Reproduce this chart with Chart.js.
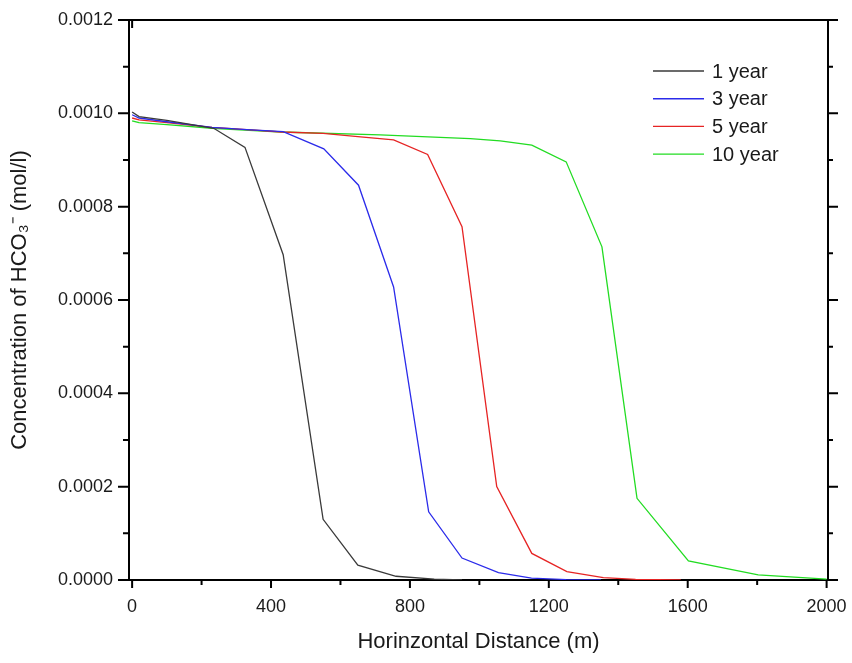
<!DOCTYPE html>
<html>
<head>
<meta charset="utf-8">
<title>HCO3- concentration profiles</title>
<script src="https://cdn.jsdelivr.net/npm/chart.js@4/dist/chart.umd.min.js"></script>
<style>
  html, body { margin: 0; padding: 0; background: #fff; }
  canvas { display: block; }
</style>
</head>
<body>
<canvas id="chart" width="852" height="663"></canvas>
<script>
// distance (m) and concentration (mol/l) for each simulated period
const dist1 = [0, 20, 100, 235, 325, 435, 550, 650, 760, 870, 950];
const year1 = [0.001003, 0.000993, 0.000985, 0.000968, 0.000927, 0.000697, 0.00013, 0.000032, 0.000008, 0.000002, 0];

const dist3 = [0, 20, 100, 230, 330, 435, 552, 652, 753, 854, 950, 1055, 1150, 1250, 1350];
const year3 = [0.000997, 0.00099, 0.000982, 0.00097, 0.000965, 0.000961, 0.000924, 0.000846, 0.000628, 0.000146, 0.000047, 0.000016, 0.000004, 0.000001, 0];

const dist5 = [0, 20, 100, 230, 330, 430, 550, 650, 753, 851, 950, 1050, 1151, 1252, 1357, 1450, 1580];
const year5 = [0.00099, 0.000986, 0.00098, 0.00097, 0.000965, 0.00096, 0.000957, 0.00095, 0.000943, 0.000912, 0.000757, 0.0002, 0.000057, 0.000018, 0.000005, 0.0000015, 0];

const dist10 = [0, 20, 100, 230, 430, 714, 974, 1060, 1151, 1250, 1353, 1454, 1602, 1803, 2000];
const year10 = [0.000984, 0.00098, 0.000976, 0.000968, 0.00096, 0.000954, 0.000946, 0.000941, 0.000932, 0.000896, 0.000714, 0.000175, 0.000041, 0.000011, 0.000002];

const seriesLabels = ["1 year", "3 year", "5 year", "10 year"];
const seriesColors = ["#3a3a3a", "#2b2bea", "#e62424", "#22dc22"];

const xTicks = [0, 400, 800, 1200, 1600, 2000];
const yTicks = [0, 0.0002, 0.0004, 0.0006, 0.0008, 0.0010, 0.0012];

const toPoints = (xs, ys) => xs.map((x, i) => ({ x: x, y: ys[i] }));
const allSeries = [
  toPoints(dist1, year1),
  toPoints(dist3, year3),
  toPoints(dist5, year5),
  toPoints(dist10, year10)
];

Chart.defaults.font.family = '"Liberation Sans", Arial, sans-serif';
Chart.defaults.color = "#1a1a1a";

// box frame with major and minor ticks on left, bottom and right
const framePlugin = {
  id: "frame",
  beforeDatasetsDraw(chart) {
    const { ctx, chartArea: a, scales: { x, y } } = chart;
    ctx.save();
    ctx.strokeStyle = "#000";
    ctx.lineWidth = 2;
    ctx.strokeRect(a.left, a.top, a.right - a.left, a.bottom - a.top);
    ctx.beginPath();
    xTicks.forEach((v, i) => {
      const px = x.getPixelForValue(v);
      ctx.moveTo(px, a.bottom);
      ctx.lineTo(px, a.bottom + 8);
      if (i < xTicks.length - 1) {
        const mx = x.getPixelForValue((v + xTicks[i + 1]) / 2);
        ctx.moveTo(mx, a.bottom);
        ctx.lineTo(mx, a.bottom + 5);
      }
    });
    yTicks.forEach((v, i) => {
      const py = y.getPixelForValue(v);
      ctx.moveTo(a.left, py);
      ctx.lineTo(a.left - 11, py);
      ctx.moveTo(a.right, py);
      ctx.lineTo(a.right + 10, py);
      if (i < yTicks.length - 1) {
        const my = y.getPixelForValue((v + yTicks[i + 1]) / 2);
        ctx.moveTo(a.left, my);
        ctx.lineTo(a.left - 6, my);
        ctx.moveTo(a.right, my);
        ctx.lineTo(a.right + 5, my);
      }
    });
    // single inward tick on the top edge at x = 0
    const x0 = x.getPixelForValue(0);
    ctx.moveTo(x0, a.top);
    ctx.lineTo(x0, a.top + 8);
    ctx.stroke();
    ctx.restore();
  }
};

// legend drawn inside the plot, upper right
const legendPlugin = {
  id: "insideLegend",
  afterDatasetsDraw(chart) {
    const { ctx, chartArea: a } = chart;
    ctx.save();
    ctx.font = '20px "Liberation Sans", Arial, sans-serif';
    ctx.textBaseline = "middle";
    ctx.fillStyle = "#1a1a1a";
    chart.data.datasets.forEach((ds, i) => {
      const yy = a.top + 51 + i * 27.7;
      const x1 = a.left + 524;
      ctx.strokeStyle = ds.borderColor;
      ctx.lineWidth = 1.4;
      ctx.beginPath();
      ctx.moveTo(x1, yy);
      ctx.lineTo(x1 + 51, yy);
      ctx.stroke();
      ctx.fillText(ds.label, x1 + 59, yy + 1);
    });
    ctx.restore();
  }
};

new Chart(document.getElementById("chart").getContext("2d"), {
  type: "line",
  data: {
    datasets: allSeries.map((pts, i) => ({
      label: seriesLabels[i],
      data: pts,
      borderColor: seriesColors[i],
      borderWidth: 1.3,
      pointRadius: 0,
      tension: 0,
      fill: false
    }))
  },
  options: {
    responsive: false,
    animation: false,
    layout: { padding: { top: 20, right: 24, left: 0, bottom: 0 } },
    plugins: {
      legend: { display: false },
      tooltip: { enabled: false }
    },
    scales: {
      x: {
        type: "linear",
        min: -9,
        max: 2004,
        afterBuildTicks: s => { s.ticks = xTicks.map(v => ({ value: v })); },
        afterFit: s => {
          s.height = 83;
          s.paddingLeft = 0;
          s.paddingRight = 0;
        },
        grid: { display: false, drawTicks: false },
        border: { display: false },
        ticks: {
          padding: 16,
          maxRotation: 0,
          font: { size: 18 },
          callback: v => String(v)
        },
        title: {
          display: true,
          text: "Horinzontal Distance (m)",
          font: { size: 22 },
          padding: { top: 0, bottom: 8 }
        }
      },
      y: {
        min: 0,
        max: 0.0012,
        afterBuildTicks: s => { s.ticks = yTicks.map(v => ({ value: v })); },
        afterFit: s => {
          s.width = 129;
          s.paddingTop = 0;
          s.paddingBottom = 0;
        },
        grid: { display: false, drawTicks: false },
        border: { display: false },
        ticks: {
          padding: 16,
          font: { size: 18 },
          callback: v => v.toFixed(4)
        },
        title: {
          display: true,
          text: "Concentration of HCO\u2083\u207B (mol/l)",
          font: { size: 22 },
          padding: { top: 7, bottom: 0 }
        }
      }
    }
  },
  plugins: [framePlugin, legendPlugin]
});
</script>
</body>
</html>
